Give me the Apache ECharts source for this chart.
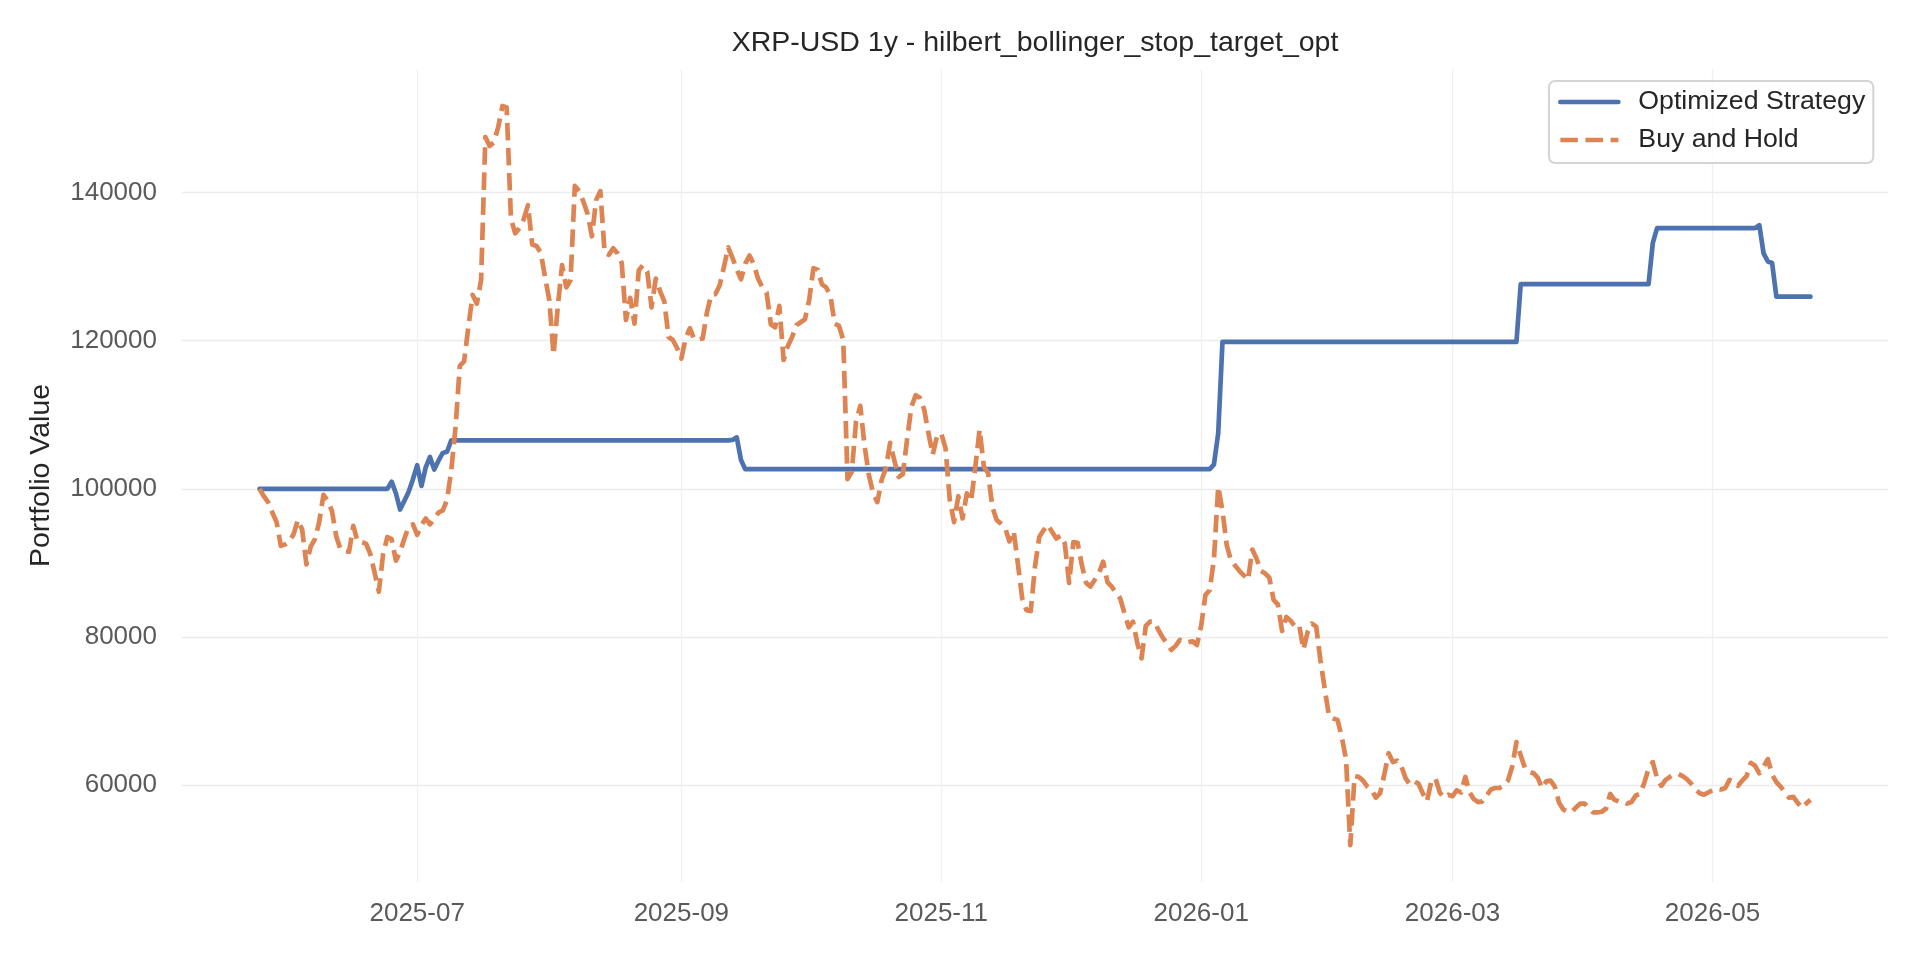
<!DOCTYPE html>
<html>
<head>
<meta charset="utf-8">
<title>XRP-USD 1y - hilbert_bollinger_stop_target_opt</title>
<script src="https://cdn.jsdelivr.net/npm/echarts@6/dist/echarts.min.js"></script>
<style>
  html, body { margin: 0; padding: 0; background: #fff; }
  #chart { width: 1920px; height: 960px; }
</style>
</head>
<body>
<div id="chart"></div>
<script>
// daily closes, first day 2025-05-25
const startDay = [2025, 4, 25];
const seriesNames = ['Optimized Strategy', 'Buy and Hold'];
const chartTitle = 'XRP-USD 1y - hilbert_bollinger_stop_target_opt';
const yAxisTitle = 'Portfolio Value';

const strategyValues = [
  100000, 100000, 100000, 100000, 100000, 100000, 100000, 100000, 100000, 100000,
  100000, 100000, 100000, 100000, 100000, 100000, 100000, 100000, 100000, 100000,
  100000, 100000, 100000, 100000, 100000, 100000, 100000, 100000, 100000, 100000,
  100000, 100970, 99400, 97200, 98400, 99600, 101300, 103200, 100400, 102900,
  104300, 102600, 103800, 104850, 105000, 106550, 106550, 106550, 106550, 106550,
  106550, 106550, 106550, 106550, 106550, 106550, 106550, 106550, 106550, 106550,
  106550, 106550, 106550, 106550, 106550, 106550, 106550, 106550, 106550, 106550,
  106550, 106550, 106550, 106550, 106550, 106550, 106550, 106550, 106550, 106550,
  106550, 106550, 106550, 106550, 106550, 106550, 106550, 106550, 106550, 106550,
  106550, 106550, 106550, 106550, 106550, 106550, 106550, 106550, 106550, 106550,
  106550, 106550, 106550, 106550, 106550, 106550, 106550, 106550, 106550, 106550,
  106550, 106600, 106950, 103900, 102650, 102650, 102650, 102650, 102650, 102650,
  102650, 102650, 102650, 102650, 102650, 102650, 102650, 102650, 102650, 102650,
  102650, 102650, 102650, 102650, 102650, 102650, 102650, 102650, 102650, 102650,
  102650, 102650, 102650, 102650, 102650, 102650, 102650, 102650, 102650, 102650,
  102650, 102650, 102650, 102650, 102650, 102650, 102650, 102650, 102650, 102650,
  102650, 102650, 102650, 102650, 102650, 102650, 102650, 102650, 102650, 102650,
  102650, 102650, 102650, 102650, 102650, 102650, 102650, 102650, 102650, 102650,
  102650, 102650, 102650, 102650, 102650, 102650, 102650, 102650, 102650, 102650,
  102650, 102650, 102650, 102650, 102650, 102650, 102650, 102650, 102650, 102650,
  102650, 102650, 102650, 102650, 102650, 102650, 102650, 102650, 102650, 102650,
  102650, 102650, 102650, 102650, 102650, 102650, 102650, 102650, 102650, 102650,
  102650, 102650, 102650, 102650, 103300, 107500, 119850, 119850, 119850, 119850,
  119850, 119850, 119850, 119850, 119850, 119850, 119850, 119850, 119850, 119850,
  119850, 119850, 119850, 119850, 119850, 119850, 119850, 119850, 119850, 119850,
  119850, 119850, 119850, 119850, 119850, 119850, 119850, 119850, 119850, 119850,
  119850, 119850, 119850, 119850, 119850, 119850, 119850, 119850, 119850, 119850,
  119850, 119850, 119850, 119850, 119850, 119850, 119850, 119850, 119850, 119850,
  119850, 119850, 119850, 119850, 119850, 119850, 119850, 119850, 119850, 119850,
  119850, 119850, 119850, 119850, 119850, 119850, 127650, 127650, 127650, 127650,
  127650, 127650, 127650, 127650, 127650, 127650, 127650, 127650, 127650, 127650,
  127650, 127650, 127650, 127650, 127650, 127650, 127650, 127650, 127650, 127650,
  127650, 127650, 127650, 127650, 127650, 127650, 127650, 133200, 135200, 135200,
  135200, 135200, 135200, 135200, 135200, 135200, 135200, 135200, 135200, 135200,
  135200, 135200, 135200, 135200, 135200, 135200, 135200, 135200, 135200, 135200,
  135200, 135200, 135600, 131800, 130700, 130500, 125950, 125950, 125950, 125950,
  125950, 125950, 125950, 125950, 125950
];

const buyHoldValues = [
  100000, 99000, 98200, 96800, 95500, 92300, 92500, 92900, 93900, 95800,
  94500, 89800, 92200, 93200, 95500, 99200, 98400, 97000, 93600, 91800,
  91600, 91500, 95000, 92900, 92800, 92600, 91200, 88700, 86100, 91200,
  93500, 93200, 90300, 91500, 93300, 94900, 95200, 93800, 95100, 96000,
  95200, 96000, 96800, 97100, 98500, 102500, 108300, 116600, 117200, 121800,
  126200, 125000, 128200, 147500, 146300, 146800, 148800, 151700, 151500, 136500,
  134500, 135200, 136400, 138300, 133000, 132800, 131900, 128600, 125500, 118100,
  124600, 130200, 127200, 128200, 140900, 140200, 138800, 137100, 134100, 139000,
  140200, 131800, 131600, 132500, 131800, 130500, 122800, 125800, 122300, 129500,
  130200, 129300, 124500, 128400, 126700, 125300, 120500, 120100, 119000, 117600,
  120300, 121700, 120200, 120200, 120300, 123800, 126200, 126300, 127500, 130000,
  132600, 131200, 129600, 128300, 130400, 131500, 130300, 128400, 127200, 126500,
  122200, 121800, 124700, 117400, 119300, 120500, 122100, 122500, 122900, 125500,
  129800, 129600, 127600, 127200, 126000, 122300, 122000, 120100, 101300, 102300,
  109100, 111200, 105800, 101900, 99400, 98200, 101200, 102800, 106200, 103800,
  101600, 102000, 106800, 111100, 112650, 112300, 110700, 107500, 104600, 107100,
  107500, 105500, 98500, 95500, 99000, 96000, 99400, 98300, 103000, 108000,
  103000, 102100, 97500, 95800, 95300, 94700, 92900, 94300, 89800, 85200,
  83600, 83500, 89500, 93500, 94400, 95150, 94200, 93300, 93700, 92600,
  87300, 92800, 92700, 89700, 87300, 86800, 87700, 88600, 90170, 87400,
  86800, 86000, 85200, 83200, 81300, 82060, 79200, 77100, 81500, 82060,
  82060, 80900, 79900, 79100, 78250, 78800, 79600, 79300, 79300, 79400,
  78900, 81500, 85670, 86300, 90500, 100300, 97000, 92400, 90300, 89600,
  88900, 88300, 87700, 91800, 90600, 88900, 88600, 88000, 85000, 84400,
  80800, 82700, 82200, 81400, 81600, 78300, 80700, 81800, 81400, 76800,
  73000, 69300, 69000, 68800, 66500, 63500, 51900, 61200, 61100, 60600,
  59800, 59350, 58300, 58900, 61500, 64300, 63100, 63300, 62500, 60900,
  60100, 60500, 60200, 58900, 57800, 60500, 60900, 59000, 58300, 58700,
  58500, 59300, 59000, 61100, 59000, 58100, 57700, 57800, 58600, 59400,
  59600, 59600, 59900, 60600, 62500, 65800, 64000, 62300, 61800, 61600,
  61000, 59600, 60500, 60600, 59800, 57600, 56700, 56400, 56400, 57000,
  57500, 57500, 56900, 56300, 56300, 56400, 56800, 58800, 58000, 57800,
  57800, 57500, 57700, 58600, 58800, 60300, 62200, 63100, 60900, 59900,
  60700, 61100, 61400, 61500, 61200, 60800, 60200, 59400, 58900, 58700,
  59000, 59300, 59500, 59400, 59600, 60700, 60500, 59900, 60600, 61200,
  63000, 62600, 61600, 62500, 63500, 61400, 60400, 59800, 59000, 58300,
  58400, 57600, 56900, 57500, 58000
];

const DAY = 24 * 3600 * 1000;
const FONT = '"Liberation Sans", Arial, sans-serif';

const dates = buyHoldValues.map((_, i) =>
  new Date(startDay[0], startDay[1], startDay[2] + i).getTime());

// matplotlib-like 5% padding around the data
const xSpan = dates[dates.length - 1] - dates[0];
const xMin = dates[0] - 0.05 * xSpan;
const xMax = dates[dates.length - 1] + 0.05 * xSpan;
const allVals = strategyValues.concat(buyHoldValues);
const lo = Math.min(...allVals), hi = Math.max(...allVals);
const yMin = lo - 0.05 * (hi - lo);
const yMax = hi + 0.05 * (hi - lo);

const pad2 = n => (n < 10 ? '0' : '') + n;
const monthLabel = v => {
  const d = new Date(v);
  return d.getFullYear() + '-' + pad2(d.getMonth() + 1);
};

const chart = echarts.init(document.getElementById('chart'));

chart.setOption({
  animation: false,
  backgroundColor: '#ffffff',
  title: {
    text: chartTitle,
    left: 1035,
    top: 29,
    padding: 0,
    textAlign: 'center',
    textStyle: { fontFamily: FONT, fontSize: 28.5, fontWeight: 'normal', color: '#262626' }
  },
  legend: {
    orient: 'vertical',
    left: 1549,
    top: 81,
    padding: [6, 8, 8, 9],
    itemWidth: 58,
    itemHeight: 14,
    itemGap: 8,
    backgroundColor: 'rgba(255,255,255,0.8)',
    borderColor: '#d4d4d4',
    borderWidth: 2,
    borderRadius: 6,
    itemStyle: { opacity: 0 },
    lineStyle: { width: 4.7 },
    textStyle: { fontFamily: FONT, fontSize: 26.7, color: '#262626', lineHeight: 30, padding: [0, 0, 0, 15] },
    data: seriesNames
  },
  grid: { left: 182, right: 32, top: 69, bottom: 78 },
  xAxis: {
    type: 'time',
    min: xMin,
    max: xMax,
    splitNumber: 5,
    minInterval: 40 * DAY,
    maxInterval: 62 * DAY,
    axisLine: { show: false },
    axisTick: { show: false },
    axisLabel: {
      formatter: monthLabel,
      fontFamily: FONT, fontSize: 26, color: '#5a5a5a', margin: 19,
      showMinLabel: false, showMaxLabel: false
    },
    splitLine: {
      show: true, showMinLine: false, showMaxLine: false,
      lineStyle: { color: '#f0f0f0', width: 1.3 }
    }
  },
  yAxis: {
    type: 'value',
    min: yMin,
    max: yMax,
    splitNumber: 5,
    name: yAxisTitle,
    nameLocation: 'middle',
    nameGap: 126,
    nameTextStyle: { fontFamily: FONT, fontSize: 28.5, color: '#262626' },
    axisLine: { show: false },
    axisTick: { show: false },
    axisLabel: {
      formatter: v => String(Math.round(v)),
      fontFamily: FONT, fontSize: 26, color: '#5a5a5a', margin: 25,
      showMinLabel: false, showMaxLabel: false
    },
    splitLine: {
      show: true, showMinLine: false, showMaxLine: false,
      lineStyle: { color: '#ececec', width: 1.3 }
    }
  },
  series: [
    {
      name: seriesNames[0],
      type: 'line',
      data: dates.map((t, i) => [t, strategyValues[i]]),
      showSymbol: false,
      symbol: 'none',
      color: '#4C72B0',
      lineStyle: { color: '#4C72B0', width: 4.7, join: 'round', cap: 'round' }
    },
    {
      name: seriesNames[1],
      type: 'line',
      data: dates.map((t, i) => [t, buyHoldValues[i]]),
      showSymbol: false,
      symbol: 'none',
      color: '#DD8452',
      lineStyle: { color: '#DD8452', width: 4.7, type: [17.5, 7.6], join: 'round' }
    }
  ]
});
</script>
</body>
</html>
